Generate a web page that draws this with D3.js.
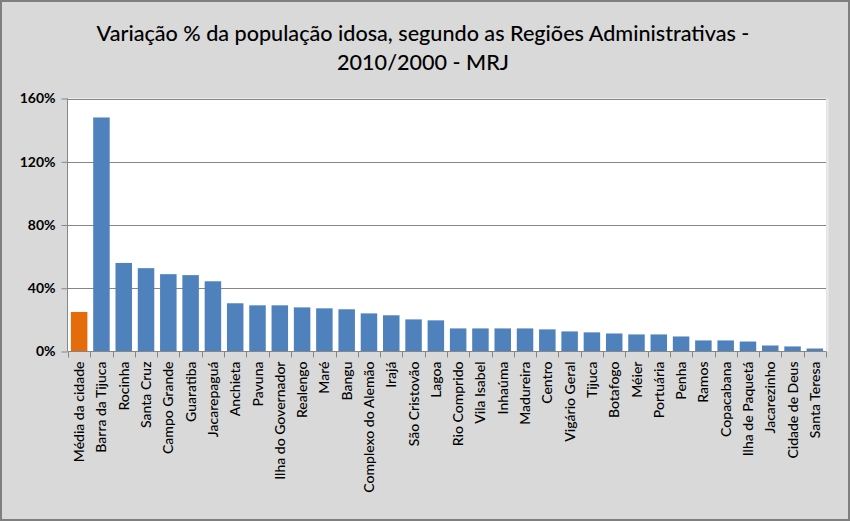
<!DOCTYPE html>
<html><head><meta charset="utf-8">
<script src="https://cdn.jsdelivr.net/npm/d3@7"></script>
<style>body{margin:0;background:#fff}svg{display:block}</style>
</head><body>
<svg id="chart" width="850" height="521"></svg>
<script>
const titleLines = ["Variação % da população idosa, segundo as Regiões Administrativas -", "2010/2000 - MRJ"];
const categories = ["Média da cidade","Barra da Tijuca","Rocinha","Santa Cruz","Campo Grande","Guaratiba","Jacarepaguá","Anchieta","Pavuna","Ilha do Governador","Realengo","Maré","Bangu","Complexo do Alemão","Irajá","São Cristovão","Lagoa","Rio Comprido","Vila Isabel","Inhaúma","Madureira","Centro","Vigário Geral","Tijuca","Botafogo","Méier","Portuária","Penha","Ramos","Copacabana","Ilha de Paquetá","Jacarezinho","Cidade de Deus","Santa Teresa"];
const values = [25.0,148.0,56.0,52.7,48.9,48.3,44.4,30.5,29.2,29.2,27.9,27.3,26.7,24.1,22.9,20.3,19.7,14.6,14.6,14.6,14.6,14.0,12.7,12.1,11.4,10.8,10.8,9.5,7.0,7.0,6.3,3.8,3.2,1.9];
const yTicks = [0,40,80,120,160];

const svg = d3.select("#chart");
const W = 850, H = 521;
svg.append("rect").attr("x",0).attr("y",0).attr("width",W).attr("height",H).attr("fill","#d9d9d9");
svg.append("rect").attr("x",1).attr("y",1).attr("width",W-2).attr("height",H-2).attr("fill","none").attr("stroke","#7f7f7f").attr("stroke-width",2);

const m = {left:68, right:826, top:98.5, bottom:351.5};
const x = d3.scaleBand().domain(categories).range([m.left, m.right]).paddingInner(0.26).paddingOuter(0.13);
const y = d3.scaleLinear().domain([0,160]).range([m.bottom, m.top]);

svg.append("rect").attr("x",m.left).attr("y",m.top).attr("width",m.right-m.left).attr("height",m.bottom-m.top).attr("fill","#fff");
svg.append("line").attr("x1",m.right+1.5).attr("x2",m.right+1.5).attr("y1",m.top).attr("y2",m.bottom).attr("stroke","#ececec").attr("stroke-width",2);

// title
const t = svg.append("text").attr("text-anchor","middle").attr("font-family","Lato, 'Open Sans', sans-serif").attr("font-size",21.6).attr("font-weight",500).attr("fill","#000");
titleLines.forEach((l,i)=> t.append("tspan").attr("x",423).attr("y",41+i*29).text(l));

// grid
svg.append("g").selectAll("line").data(yTicks.filter(d=>d>0)).join("line")
  .attr("x1",m.left).attr("x2",m.right).attr("y1",d=>Math.round(y(d))+0.5).attr("y2",d=>Math.round(y(d))+0.5)
  .attr("stroke","#868686").attr("stroke-width",1);

// bars
svg.append("g").selectAll("rect").data(categories).join("rect")
  .attr("x",d=>x(d)).attr("width",x.bandwidth())
  .attr("y",(d,i)=>y(values[i])).attr("height",(d,i)=>y(0)-y(values[i]))
  .attr("fill",(d,i)=>i===0?"#e46c0a":"#4f81bd");

// y axis
const yAxis = d3.axisLeft(y).tickValues(yTicks).tickFormat(d=>d+"%").tickSize(6).tickPadding(6);
const gy = svg.append("g").attr("transform",`translate(${m.left-0.5},0)`).call(yAxis);
gy.select(".domain").attr("stroke","#868686").attr("d",`M0,${m.bottom}V${m.top}`);
gy.selectAll(".tick line").attr("stroke","#868686").attr("x2",-6);
gy.selectAll(".tick text").attr("font-family","Lato, 'Open Sans', sans-serif").attr("font-size",14).attr("font-weight","bold").attr("fill","#000");

// x axis
const gx = svg.append("g").attr("transform",`translate(0,${m.bottom})`);
gx.append("line").attr("x1",m.left).attr("x2",m.right).attr("y1",0).attr("y2",0).attr("stroke","#868686");
const bounds = d3.range(categories.length+1).map(i=>m.left + i*(m.right-m.left)/categories.length);
gx.selectAll("line.tk").data(bounds).join("line").attr("class","tk")
  .attr("x1",d=>Math.round(d)+0.5).attr("x2",d=>Math.round(d)+0.5).attr("y1",0).attr("y2",6).attr("stroke","#868686");
gx.selectAll("text").data(categories).join("text")
  .attr("transform",d=>`translate(${x(d)+x.bandwidth()/2+5},10) rotate(-90)`)
  .attr("text-anchor","end")
  .attr("font-family","Lato, 'Open Sans', sans-serif").attr("font-size",14).attr("font-weight",500).attr("fill","#000")
  .text(d=>d);
</script>
</body></html>
